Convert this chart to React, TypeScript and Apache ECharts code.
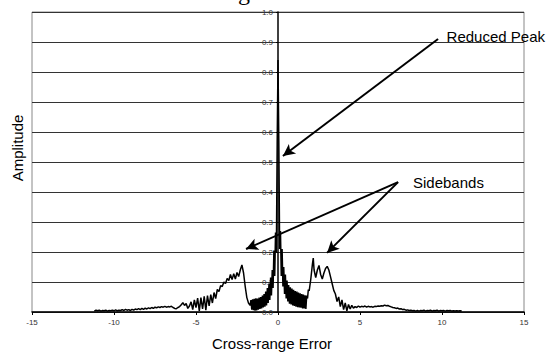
import React, { useEffect, useRef } from "react";
import * as echarts from "echarts";

const xTicks = [-15, -10, -5, 0, 5, 10, 15];
const yTicks = [0, 0.1, 0.2, 0.3, 0.4, 0.5, 0.6, 0.7, 0.8, 0.9, 1.0];

const leftTail: number[][] = [
  [-11.2, 0.003], [-11.1, 0.006], [-11.0, 0.004], [-10.9, 0.006], [-10.8, 0.003], [-10.7, 0.005],
  [-10.6, 0.004], [-10.5, 0.006], [-10.4, 0.003], [-10.3, 0.005], [-10.2, 0.004], [-10.1, 0.006],
  [-10.0, 0.004], [-9.9, 0.007], [-9.8, 0.004], [-9.7, 0.006], [-9.6, 0.005], [-9.5, 0.008],
  [-9.4, 0.005], [-9.3, 0.009], [-9.2, 0.006], [-9.1, 0.008], [-9.0, 0.005], [-8.9, 0.009],
  [-8.8, 0.006], [-8.7, 0.01], [-8.6, 0.008], [-8.5, 0.011], [-8.4, 0.008], [-8.3, 0.012],
  [-8.2, 0.009], [-8.1, 0.013], [-8.0, 0.01], [-7.9, 0.014], [-7.8, 0.011], [-7.7, 0.015],
  [-7.6, 0.012], [-7.5, 0.016], [-7.4, 0.014], [-7.3, 0.017], [-7.2, 0.015], [-7.1, 0.018],
  [-7.0, 0.016], [-6.9, 0.019], [-6.8, 0.016], [-6.7, 0.018], [-6.6, 0.017], [-6.5, 0.019],
  [-6.4, 0.015], [-6.3, 0.012], [-6.2, 0.011], [-6.1, 0.015], [-6.0, 0.018],
];

const leftBand: number[][] = [
  [-5.9, 0.024], [-5.8, 0.031], [-5.7, 0.022], [-5.6, 0.028], [-5.5, 0.012], [-5.4, 0.02],
  [-5.3, 0.034], [-5.2, 0.008], [-5.1, 0.04], [-5.0, 0.015], [-4.9, 0.046], [-4.8, 0.004],
  [-4.7, 0.048], [-4.6, 0.01], [-4.5, 0.052], [-4.4, 0.006], [-4.3, 0.055], [-4.2, 0.02],
  [-4.1, 0.058], [-4.0, 0.03], [-3.9, 0.065], [-3.8, 0.045], [-3.7, 0.075], [-3.6, 0.068],
  [-3.5, 0.088], [-3.4, 0.085], [-3.3, 0.1], [-3.2, 0.095], [-3.1, 0.112], [-3.0, 0.105],
  [-2.9, 0.125], [-2.8, 0.108], [-2.7, 0.128], [-2.6, 0.11], [-2.5, 0.132], [-2.4, 0.118],
  [-2.3, 0.14], [-2.2, 0.157], [-2.1, 0.13], [-2.0, 0.085], [-1.9, 0.048], [-1.8, 0.03],
];

const core: number[][] = [
  [-1.7, 0.022], [-1.65, 0.04], [-1.6, 0.008], [-1.55, 0.042], [-1.5, 0.006], [-1.45, 0.044],
  [-1.4, 0.004], [-1.35, 0.046], [-1.3, 0.005], [-1.25, 0.045], [-1.2, 0.008], [-1.15, 0.048],
  [-1.1, 0.01], [-1.05, 0.05], [-1.0, 0.012], [-0.95, 0.055], [-0.9, 0.015], [-0.85, 0.06],
  [-0.8, 0.018], [-0.75, 0.068], [-0.7, 0.022], [-0.65, 0.08], [-0.6, 0.03], [-0.55, 0.095],
  [-0.5, 0.04], [-0.45, 0.115], [-0.4, 0.055], [-0.35, 0.14], [-0.3, 0.08], [-0.25, 0.205],
  [-0.2, 0.12], [-0.15, 0.265], [-0.1, 0.2], [-0.05, 0.56], [0, 0.84], [0.05, 0.57],
  [0.1, 0.21], [0.15, 0.27], [0.2, 0.12], [0.25, 0.21], [0.3, 0.085], [0.35, 0.15],
  [0.4, 0.06], [0.45, 0.125], [0.5, 0.045], [0.55, 0.105], [0.6, 0.035], [0.65, 0.09],
  [0.7, 0.028], [0.75, 0.082], [0.8, 0.025], [0.85, 0.078], [0.9, 0.022], [0.95, 0.074],
  [1.0, 0.02], [1.05, 0.07], [1.1, 0.018], [1.15, 0.068], [1.2, 0.016], [1.25, 0.065],
  [1.3, 0.015], [1.35, 0.062], [1.4, 0.014], [1.45, 0.06], [1.5, 0.012], [1.55, 0.058],
  [1.6, 0.012], [1.65, 0.056], [1.7, 0.01], [1.75, 0.055],
];

const rightBand: number[][] = [
  [1.8, 0.045], [1.85, 0.075], [1.9, 0.07], [2.0, 0.11], [2.1, 0.16], [2.15, 0.18],
  [2.2, 0.14], [2.3, 0.115], [2.4, 0.14], [2.5, 0.155], [2.6, 0.125], [2.7, 0.11],
  [2.8, 0.13], [2.9, 0.145], [3.0, 0.152], [3.1, 0.14], [3.2, 0.118], [3.3, 0.095],
  [3.4, 0.072], [3.5, 0.06], [3.6, 0.035], [3.7, 0.05], [3.8, 0.018], [3.9, 0.04],
  [4.0, 0.008], [4.1, 0.03], [4.2, 0.004], [4.3, 0.025], [4.4, 0.01], [4.5, 0.022],
];

const rightTail: number[][] = [
  [4.6, 0.013], [4.7, 0.018], [4.8, 0.015], [4.9, 0.02], [5.0, 0.016], [5.1, 0.019],
  [5.2, 0.017], [5.3, 0.02], [5.4, 0.016], [5.5, 0.019], [5.6, 0.017], [5.7, 0.018],
  [5.8, 0.016], [5.9, 0.019], [6.0, 0.018], [6.1, 0.02], [6.2, 0.019], [6.3, 0.021],
  [6.4, 0.02], [6.5, 0.023], [6.6, 0.021], [6.7, 0.022], [6.8, 0.019], [6.9, 0.017],
  [7.0, 0.015], [7.1, 0.014], [7.2, 0.012], [7.3, 0.013], [7.4, 0.01], [7.5, 0.011],
  [7.6, 0.008], [7.7, 0.009], [7.8, 0.006], [7.9, 0.007], [8.0, 0.005], [8.1, 0.006],
  [8.2, 0.004], [8.3, 0.005], [8.4, 0.003], [8.5, 0.005], [8.6, 0.003], [8.7, 0.005],
  [8.8, 0.004], [8.9, 0.006], [9.0, 0.003], [9.1, 0.005], [9.2, 0.004], [9.3, 0.006],
  [9.4, 0.003], [9.5, 0.005], [9.6, 0.004], [9.7, 0.006], [9.8, 0.003], [9.9, 0.005],
  [10.0, 0.004], [10.1, 0.005], [10.2, 0.003], [10.3, 0.005], [10.4, 0.004], [10.5, 0.005],
  [10.6, 0.003], [10.7, 0.004], [10.8, 0.003], [10.9, 0.004], [11.0, 0.003], [11.1, 0.004],
  [11.2, 0.003],
];

// annotation arrows in data coordinates: [fromX, fromY, toX, toY]
const peakArrow = [9.76, 0.91, 0.3, 0.52];
const sideArrowLeft = [7.32, 0.433, -1.95, 0.21];
const sideArrowRight = [7.32, 0.433, 2.99, 0.197];

const FONT = "'Liberation Sans', Arial, sans-serif";

const GRID_LEFT = 32;
const GRID_RIGHT = 23;
const WIDTH = 547;

export default function App() {
  const ref = useRef<HTMLDivElement>(null);
  useEffect(() => {
    if (!ref.current) return;
    const chart = echarts.init(ref.current, undefined, { renderer: "svg" });
    const series = [...leftTail, ...leftBand, ...core, ...rightBand, ...rightTail];
    const arrow = (a: number[]) => [{ coord: [a[0], a[1]] }, { coord: [a[2], a[3]] }];
    const xMin = xTicks[0];
    const xMax = xTicks[xTicks.length - 1];
    const plotW = WIDTH - GRID_LEFT - GRID_RIGHT;
    const zeroOffset = -((0 - xMin) / (xMax - xMin)) * plotW;
    chart.setOption({
      animation: false,
      backgroundColor: "#fff",
      grid: {
        left: GRID_LEFT,
        right: GRID_RIGHT,
        top: 12,
        bottom: 44,
        show: true,
        borderColor: "#888",
        borderWidth: 1,
      },
      xAxis: {
        type: "value",
        min: xMin,
        max: xMax,
        interval: 5,
        axisLine: { show: true, onZero: false, lineStyle: { color: "#000", width: 1.5 } },
        axisTick: { show: true, length: 3, lineStyle: { color: "#000" } },
        axisLabel: { fontSize: 8, color: "#333", fontFamily: FONT, margin: 6 },
        splitLine: { show: false },
      },
      yAxis: {
        type: "value",
        min: yTicks[0],
        max: yTicks[yTicks.length - 1],
        interval: 0.1,
        offset: zeroOffset,
        axisLine: { show: true, onZero: false, lineStyle: { color: "#000", width: 1.5 } },
        axisTick: { show: true, length: 2, lineStyle: { color: "#000" } },
        axisLabel: {
          fontSize: 8,
          color: "#333",
          fontFamily: FONT,
          margin: 5,
          formatter: (v: number) => v.toFixed(1),
        },
        splitLine: { show: true, lineStyle: { color: "#333", width: 1 } },
      },
      series: [
        {
          type: "line",
          data: series,
          showSymbol: false,
          lineStyle: { color: "#000", width: 1.5 },
          markLine: {
            silent: true,
            symbol: ["none", "arrow"],
            symbolSize: [9, 12],
            label: { show: false },
            lineStyle: { color: "#000", width: 2, type: "solid" },
            data: [arrow(peakArrow), arrow(sideArrowLeft), arrow(sideArrowRight)],
          },
        },
      ],
      graphic: [
        {
          type: "text",
          x: 545,
          y: 36,
          style: {
            text: "Reduced Peak",
            font: `15px ${FONT}`,
            fill: "#000",
            align: "right",
            verticalAlign: "middle",
          },
        },
        {
          type: "text",
          x: 413,
          y: 182,
          style: {
            text: "Sidebands",
            font: `15px ${FONT}`,
            fill: "#000",
            align: "left",
            verticalAlign: "middle",
          },
        },
        {
          type: "text",
          x: 272,
          y: 343,
          style: {
            text: "Cross-range Error",
            font: `15px ${FONT}`,
            fill: "#000",
            align: "center",
            verticalAlign: "middle",
          },
        },
        {
          type: "text",
          x: 17,
          y: 148,
          rotation: Math.PI / 2,
          style: {
            text: "Amplitude",
            font: `15px ${FONT}`,
            fill: "#000",
            align: "center",
            verticalAlign: "middle",
          },
        },
        {
          type: "text",
          x: 244,
          y: -20,
          style: {
            text: "g",
            font: `24px 'Liberation Serif', 'Times New Roman', serif`,
            fill: "#000",
            align: "center",
            verticalAlign: "top",
          },
        },
      ],
    });
    return () => chart.dispose();
  }, []);
  return (
    <div
      ref={ref}
      style={{ position: "absolute", left: 0, top: 0, width: 547, height: 356 }}
    />
  );
}
